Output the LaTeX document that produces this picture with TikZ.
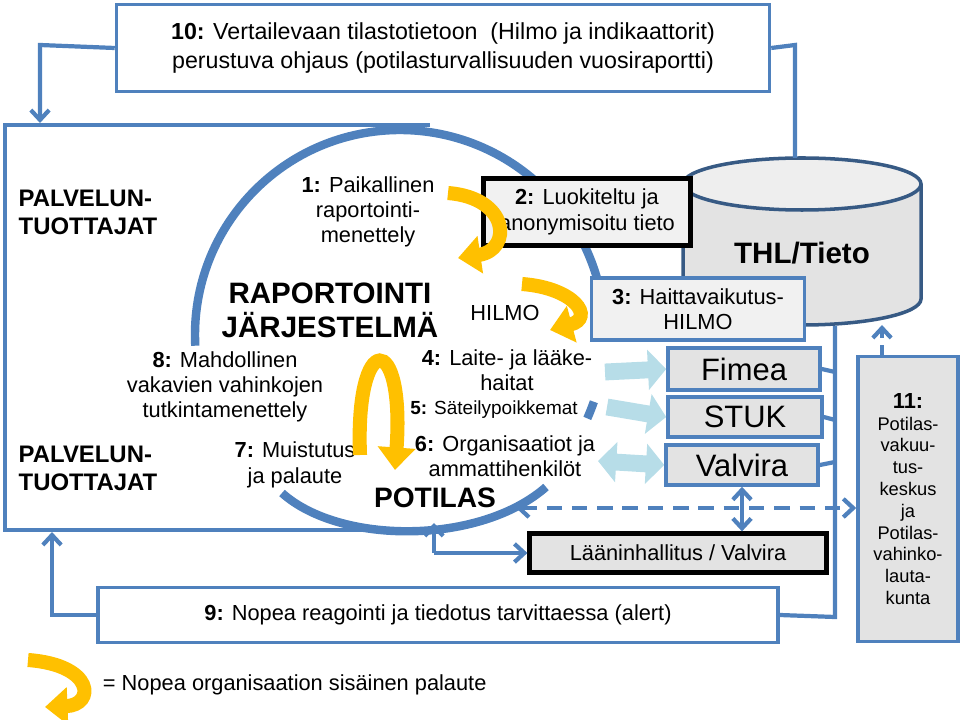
\documentclass[tikz,border=0pt]{standalone}
\usepackage{fontspec}
\setmainfont{Liberation Sans}
\usetikzlibrary{positioning}
\usetikzlibrary{arrows.meta,shapes.geometric}
\definecolor{frame}{HTML}{4F81BD}
\definecolor{gold}{HTML}{FFC000}
\definecolor{paleblue}{HTML}{B7DDE8}
\definecolor{boxgray}{HTML}{E3E3E3}
\tikzset{>={Straight Barb[length=7pt,width=13pt]}}
\tikzset{
  plainbox/.style={draw=frame,line width=2.5pt,fill=white},
  graybox/.style={draw=frame,line width=2.5pt,fill=boxgray},
  blackbox/.style={draw=black,line width=3pt,fill=boxgray},
  link/.style={draw=frame,line width=3pt},
  yellowarrow/.style={draw=gold,line width=10pt,-{Triangle[length=16pt,width=26pt]}},
  palearrow/.style={draw=paleblue,line width=12pt,-{Triangle[length=13pt,width=28pt]}},
  txt/.style={font=\fontsize{15.5}{18}\selectfont,align=center,inner sep=1pt},
}
\begin{document}
\begin{tikzpicture}[x=0.025cm,y=-0.025cm]
\useasboundingbox (0,0) rectangle (960,720);

% Frame of the service providers
\draw[link] (430,125) -- (5,125) -- (5,530) -- (400,530);

% Reporting circle
\draw[frame,line width=6pt] (400,335) ++(177:205) arc[start angle=177,end angle=361,radius=205];
\draw[frame,line width=6pt] (400,335) ++(19:205) arc[start angle=19,end angle=24,radius=205];
\draw[frame,line width=6pt] (282,493) .. controls (340,545) and (480,545) .. (546,487);

% Box 10
\node[plainbox,minimum width=653*0.025cm,minimum height=87*0.025cm,font=\fontsize{16.5}{20}\selectfont,align=center]
  (stat) at (443,48) {\textbf{10:} Vertailevaan tilastotietoon\ \ (Hilmo ja indikaattorit)\\perustuva ohjaus (potilasturvallisuuden vuosiraportti)};

% Database cylinder
\draw[frame!70!black,line width=2.5pt,fill=boxgray] (683,184) -- (683,299) arc[start angle=180,end angle=0,x radius=119,y radius=26] -- (921,184);
\draw[frame!70!black,line width=2.5pt,fill=boxgray!60] (802,184) ellipse[x radius=119,y radius=26];
\node[font=\fontsize{21}{24}\selectfont\bfseries] (thl) at (802,253) {THL/Tieto};

% Box 2 and box 3
\node[blackbox,fill=boxgray!50,minimum width=207*0.025cm,minimum height=67*0.025cm,txt] (anon) at (587,212)
  {\textbf{2:} Luokiteltu ja\\anonymisoitu tieto};
\node[graybox,fill=boxgray!50,minimum width=213*0.025cm,minimum height=62*0.025cm,txt] (hilmo) at (698,309)
  {\textbf{3:} Haittavaikutus-\\HILMO};

% Authorities
\node[graybox,minimum width=152*0.025cm,minimum height=42*0.025cm,font=\fontsize{22}{24}\selectfont] (fimea) at (744,369) {Fimea};
\node[graybox,minimum width=154*0.025cm,minimum height=40*0.025cm,font=\fontsize{22}{24}\selectfont] (stuk) at (745,417) {STUK};
\node[graybox,minimum width=152*0.025cm,minimum height=40*0.025cm,font=\fontsize{22}{24}\selectfont] (valvira) at (742,465) {Valvira};
\node[blackbox,minimum width=297*0.025cm,minimum height=39*0.025cm,txt] (laani) at (678,553) {Lääninhallitus / Valvira};
\node[graybox,minimum width=100*0.025cm,minimum height=285*0.025cm,align=center,font=\fontsize{13}{15.5}\selectfont] (vakuutus) at (908,499)
  {{\fontsize{15.5}{17}\selectfont\textbf{11:}}\\Potilas-\\vakuu-\\tus-\\keskus\\ja\\Potilas-\\vahinko-\\lauta-\\kunta};

% Box 9
\node[plainbox,minimum width=680*0.025cm,minimum height=55*0.025cm,txt] (alert) at (438,615)
  {\textbf{9:} Nopea reagointi ja tiedotus tarvittaessa (alert)};

% Texts inside the frame
\node[txt,font=\fontsize{17}{20}\selectfont\bfseries,align=left] (prov1) at (88,212) {PALVELUN-\\TUOTTAJAT};
\node[txt,font=\fontsize{17}{20}\selectfont\bfseries,align=left] (prov2) at (88,468) {PALVELUN-\\TUOTTAJAT};
\node[txt,fill=white] (local) at (368,212) {\textbf{1:} Paikallinen\\raportointi-\\menettely};
\node[txt,font=\fontsize{21}{24}\selectfont\bfseries] (system) at (330,310) {RAPORTOINTI\\JÄRJESTELMÄ};
\node[txt] (hilmotxt) at (505,313) {HILMO};
\node[txt,fill=white] (invest) at (225,387) {\textbf{8:} Mahdollinen\\vakavien vahinkojen\\tutkintamenettely};
\node[txt,fill=white] (remind) at (295,465) {\textbf{7:} Muistutus\\ja palaute};
\node[txt] (device) at (507,370) {\textbf{4:} Laite- ja lääke-\\haitat};
\node[txt,font=\fontsize{13.5}{16}\selectfont] (rad) at (494,410) {\textbf{5:} Säteilypoikkemat};
\node[txt] (orgs) at (505,456) {\textbf{6:} Organisaatiot ja\\ammattihenkilöt};
\node[txt,font=\fontsize{20}{23}\selectfont\bfseries,fill=white] (patient) at (435,498) {POTILAS};

% Quick feedback arrows
\draw[yellowarrow] (448,193) .. controls (510,198) and (512,250) .. (458,258);
\draw[yellowarrow] (522,284) .. controls (575,288) and (595,318) .. (550,330);
\draw[yellowarrow] (360,455) .. controls (355,330) and (405,330) .. (395,470);

% Arrows to the authorities
\draw[palearrow] (605,372) -- (fimea.west);
\draw[palearrow] (607,407) -- (stuk.west);
\draw[palearrow,{Triangle[length=13pt,width=28pt]}-{Triangle[length=13pt,width=28pt]}] (598,461) -- (valvira.west);

% Feedback lines
\draw[link,->] (stat.west) -- (40,45) -- (40,123);
\draw[link] (stat.east) -- (795,45) -- (795,158);
\draw[link] (835,326) -- (835,617) -- (alert.east);
\draw[link] (fimea.east) -- (835,372);
\draw[link] (stuk.east) -- (835,420);
\draw[link] (valvira.east) -- (835,462);
\draw[link,->] (alert.west) -- (52,615) -- (52,532);
\draw[link,->] (434,553) -- (laani.west);
\draw[link,->] (434,553) -- (434,523);
\draw[link,<->] (valvira.south) -- (valvira.south |- laani.north);
\draw[link,dashed,dash pattern=on 11pt off 7pt,<->] (516,508) -- (vakuutus.west |- 0,508);
\draw[link,dashed,dash pattern=on 7pt off 5pt,->] (vakuutus.north -| 882,0) -- (882,325);

% Legend
\draw[yellowarrow] (28,660) .. controls (95,665) and (95,705) .. (45,707);
\node[font=\fontsize{15.5}{18}\selectfont,anchor=west] (legend) at (98,685) {= Nopea organisaation sisäinen palaute};

\end{tikzpicture}
\end{document}
